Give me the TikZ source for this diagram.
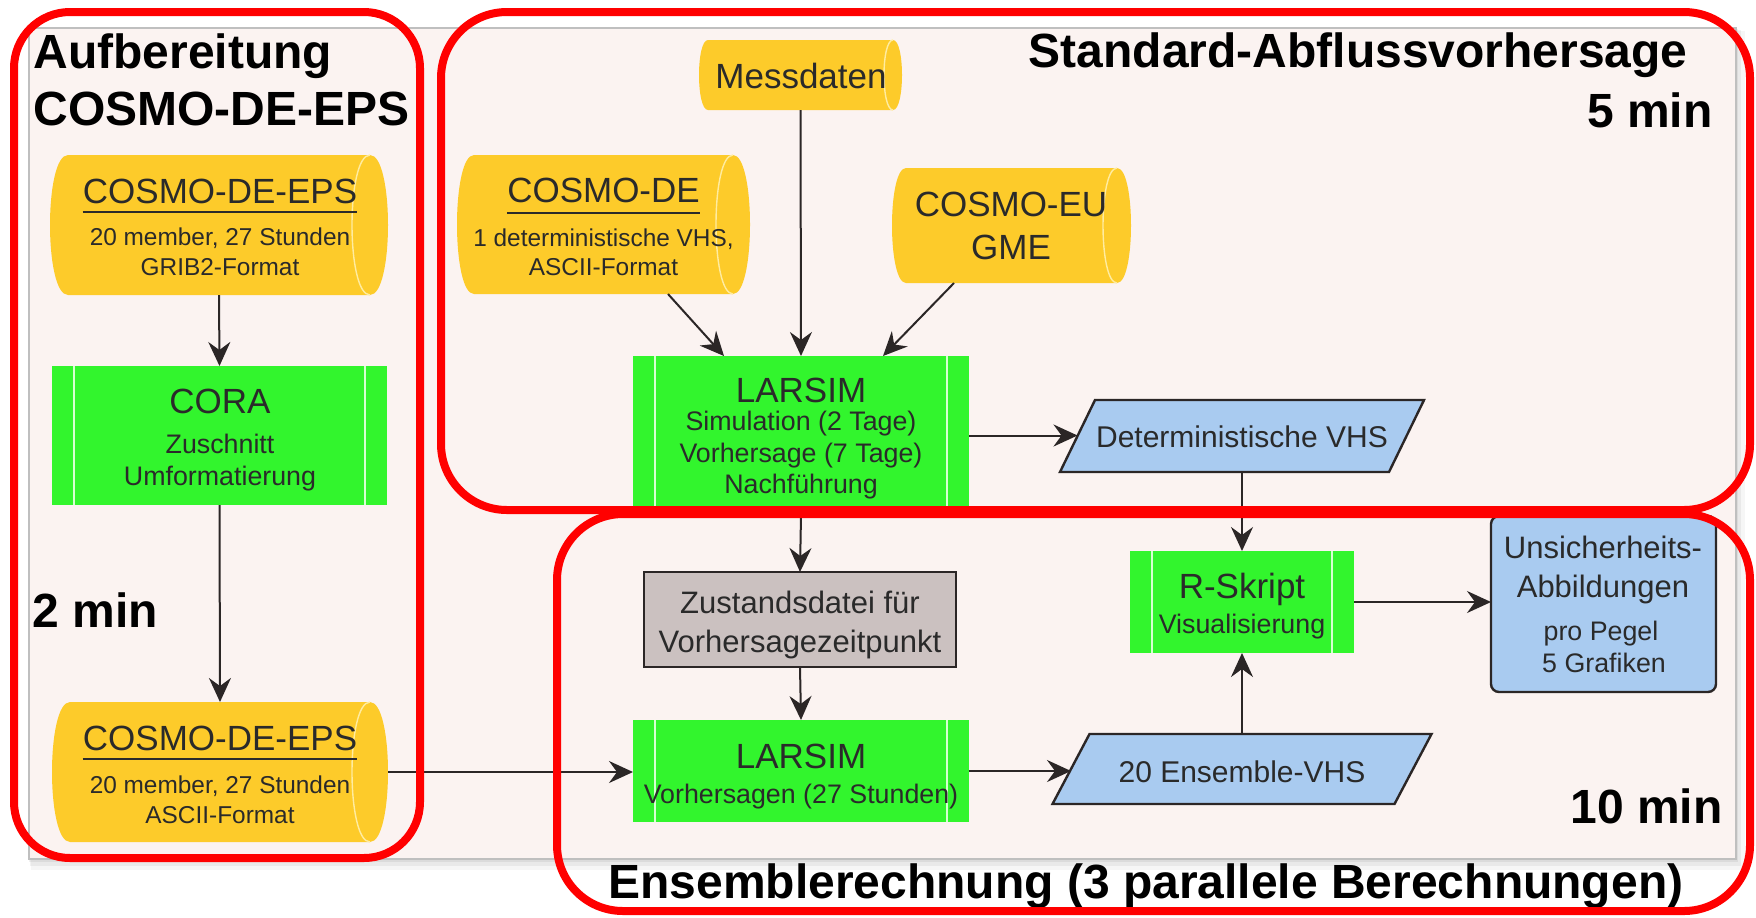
\documentclass[tikz,border=0pt]{standalone}
\usepackage{fontspec}
\setmainfont{Liberation Sans}
\usetikzlibrary{arrows.meta,calc,fit}
\definecolor{panel}{RGB}{251,243,241}
\definecolor{cylY}{RGB}{253,203,42}
\definecolor{cylL}{RGB}{255,236,160}
\definecolor{grn}{RGB}{50,245,45}
\definecolor{grnL}{RGB}{215,255,210}
\definecolor{blu}{RGB}{169,203,240}
\definecolor{gry}{RGB}{203,193,192}
\definecolor{ink}{RGB}{43,38,38}
\definecolor{txt}{RGB}{42,42,42}
\definecolor{redb}{RGB}{255,0,0}
\tikzset{
  box/.style={inner sep=0pt, outer sep=0pt},
  gbox/.style={box, fill=grn},
  lbl/.style={inner sep=0pt, anchor=base, text=txt},
  tA/.style={lbl, font=\fontsize{17.5}{20}\selectfont},
  tB/.style={lbl, font=\fontsize{13.4}{16}\selectfont},
  tC/.style={lbl, font=\fontsize{12.2}{14}\selectfont},
  tD/.style={lbl, font=\fontsize{15}{18}\selectfont},
  tE/.style={lbl, font=\fontsize{15.5}{18}\selectfont},
  big/.style={inner sep=0pt, text=black, font=\fontsize{24}{28}\selectfont\bfseries},
  arr/.style={draw=ink, line width=1pt, -{Stealth[length=12pt,width=11pt,inset=4pt]}},
  frame/.style={draw=redb, line width=4pt, rounded corners=33pt},
  uline/.style={draw=txt, line width=1pt},
}
\newcommand\cylbg[5]{%
  \pgfmathsetmacro\cA{#1+#5}%
  \pgfmathsetmacro\cB{#3-#5}%
  \pgfmathsetmacro\cC{#1-#5/3}%
  \pgfmathsetmacro\cD{#3+#5/3}%
  \pgfmathsetmacro\cE{#3-7*#5/3}%
  \fill[cylY] (\cA,#2) -- (\cB,#2) .. controls (\cD,#2) and (\cD,#4) .. (\cB,#4)
     -- (\cA,#4) .. controls (\cC,#4) and (\cC,#2) .. (\cA,#2) -- cycle;
  \draw[cylL, line width=0.7pt] (\cB,#2) .. controls (\cE,#2) and (\cE,#4) .. (\cB,#4);
}
\newcommand\glines[1]{%
  \draw[grnL, line width=0.8pt] ($(#1.north west)+(22,0)$) -- ($(#1.south west)+(22,0)$)
     ($(#1.north east)+(-22,0)$) -- ($(#1.south east)+(-22,0)$);
}
\begin{document}
\begin{tikzpicture}[x=0.5pt,y=-0.5pt]
\useasboundingbox (0,0) rectangle (1756,917);
% panel with soft shadow
\fill[black,opacity=0.035] (31,31) rectangle (1745,870);
\fill[black,opacity=0.05] (30,30) rectangle (1741,866);
\fill[black,opacity=0.06] (29,29) rectangle (1738,862);
\fill[panel, draw=black!25, line width=0.6pt] (29,28) rectangle (1736,859);

% ---------- cylinders ----------
\cylbg{50}{155}{388}{295}{18}
\node[box, fit={(50,155) (388,295)}] (eps1) {};
\cylbg{52}{702}{388}{842}{18}
\node[box, fit={(52,702) (388,842)}] (eps2) {};
\cylbg{699}{40}{902}{110}{9}
\node[box, fit={(699,40) (902,110)}] (mess) {};
\cylbg{457}{155}{750}{294}{17}
\node[box, fit={(457,155) (750,294)}] (cde) {};
\cylbg{892}{168}{1131}{283}{14}
\node[box, fit={(892,168) (1131,283)}] (ceu) {};

% ---------- green process boxes ----------
\node[gbox, fit={(52,366) (387,505)}] (cora) {};
\glines{cora}
\node[gbox, fit={(633,356) (969,515)}] (lars1) {};
\glines{lars1}
\node[gbox, fit={(633,720) (969,822)}] (lars2) {};
\glines{lars2}
\node[gbox, fit={(1130,551) (1354,653)}] (rsk) {};
\glines{rsk}

% ---------- other boxes ----------
\node[box, fit={(644,572) (956,667)}, fill=gry, draw=ink, line width=1.2pt] (zust) {};
\node[box, fit={(1491,516) (1716,692)}, fill=blu, draw=ink, line width=1.2pt, rounded corners=4pt] (uns) {};
\node[box, fit={(1077.5,400) (1406.5,472)}] (det) {};
\fill[blu, draw=ink, line width=1.2pt] ($(det.north west)+(17.5,0)$) -- ($(det.north east)+(17.5,0)$)
   -- ($(det.south east)+(-17.5,0)$) -- ($(det.south west)+(-17.5,0)$) -- cycle;
\node[box, fit={(1071,734) (1413,804)}] (ens) {};
\fill[blu, draw=ink, line width=1.2pt] ($(ens.north west)+(18.5,0)$) -- ($(ens.north east)+(18.5,0)$)
   -- ($(ens.south east)+(-18.5,0)$) -- ($(ens.south west)+(-18.5,0)$) -- cycle;

% ---------- connectors ----------
\draw[arr] (eps1.south) -- (cora.north);
\draw[arr] (cora.south) -- (eps2.north);
\draw[arr] (eps2.east) -- (eps2.east -| lars2.west);
\draw[arr] (mess.south) -- (lars1.north);
\draw[arr] ($(cde.south)+(64.5,0)$) -- ($(lars1.north)+(-77,0)$);
\draw[arr] ($(ceu.south)+(-57.5,0)$) -- ($(lars1.north)+(82,0)$);
\draw[arr] (lars1.east) -- (lars1.east -| det.west);
\draw[arr] (lars1.south) -- (zust.north);
\draw[arr] (zust.south) -- (lars2.north);
\draw[arr] (lars2.east) -- (lars2.east -| ens.west);
\draw[arr] (det.south) -- (rsk.north);
\draw[arr] (ens.north) -- (rsk.south);
\draw[arr] (rsk.east) -- (rsk.east -| uns.west);

% ---------- node texts ----------
\node[tA] (eps1t) at (220,203) {COSMO-DE-EPS};
\draw[uline] ($(eps1t.base west)+(0,9)$) -- ($(eps1t.base east)+(0,9)$);
\node[tC] (eps1a) at (220,245) {20 member, 27 Stunden};
\node[tC] (eps1b) at (220,275) {GRIB2-Format};

\node[tA] (corat) at (220,413) {CORA};
\node[tB] (coraa) at (220,453) {Zuschnitt};
\node[tB] (corab) at (220,485) {Umformatierung};

\node[tA] (eps2t) at (220,750) {COSMO-DE-EPS};
\draw[uline] ($(eps2t.base west)+(0,9)$) -- ($(eps2t.base east)+(0,9)$);
\node[tC] (eps2a) at (220,793) {20 member, 27 Stunden};
\node[tC] (eps2b) at (220,823) {ASCII-Format};

\node[tA] (messt) at (801,88) {Messdaten};

\node[tA] (cdet) at (603.5,202) {COSMO-DE};
\draw[uline] ($(cdet.base west)+(0,11)$) -- ($(cdet.base east)+(0,11)$);
\node[tC] (cdea) at (603.5,246) {1 deterministische VHS,};
\node[tC] (cdeb) at (603.5,275) {ASCII-Format};

\node[tA] (ceut) at (1011,216) {COSMO-EU};
\node[tA] (ceub) at (1011,259) {GME};

\node[tA] (lars1t) at (801,402) {LARSIM};
\node[tB] (lars1a) at (801,430) {Simulation (2 Tage)};
\node[tB] (lars1b) at (801,462) {Vorhersage (7 Tage)};
\node[tB] (lars1c) at (801,493) {Nachführung};

\node[tD] (dett) at (1242,447) {Deterministische VHS};

\node[tE] (zusta) at (800,613) {Zustandsdatei für};
\node[tE] (zustb) at (800,652) {Vorhersagezeitpunkt};

\node[tA] (lars2t) at (801,768) {LARSIM};
\node[tB] (lars2a) at (801,803) {Vorhersagen (27 Stunden)};

\node[tD] (enst) at (1242,782) {20 Ensemble-VHS};

\node[tA] (rskt) at (1242,598) {R-Skript};
\node[tB] (rska) at (1242,633) {Visualisierung};

\node[tE] (unsa) at (1603,558) {Unsicherheits-};
\node[tE] (unsb) at (1603,597) {Abbildungen};
\node[tB] (unsc) at (1601,640) {pro Pegel};
\node[tB] (unsd) at (1604,672) {5 Grafiken};

% ---------- group labels ----------
\node[big, anchor=base west] (g1a) at (33,68) {Aufbereitung};
\node[big, anchor=base west] (g1b) at (33,125) {COSMO-DE-EPS};
\node[big, anchor=base west] (g1c) at (32,627) {2 min};
\node[big, anchor=base east] (g2a) at (1688,67) {Standard-Abflussvorhersage};
\node[big, anchor=base east] (g2b) at (1713,127) {5 min};
\node[big, anchor=base east] (g3a) at (1723,823) {10 min};
\node[big, anchor=base west] (g3b) at (608,898) {Ensemblerechnung (3 parallele Berechnungen)};

% ---------- red frames ----------
\draw[frame, rounded corners=28pt] (14,12) rectangle (420,858);
\draw[frame] (441,12) rectangle (1750,510);
\draw[frame] (557,514) rectangle (1750,911);
\end{tikzpicture}
\end{document}
